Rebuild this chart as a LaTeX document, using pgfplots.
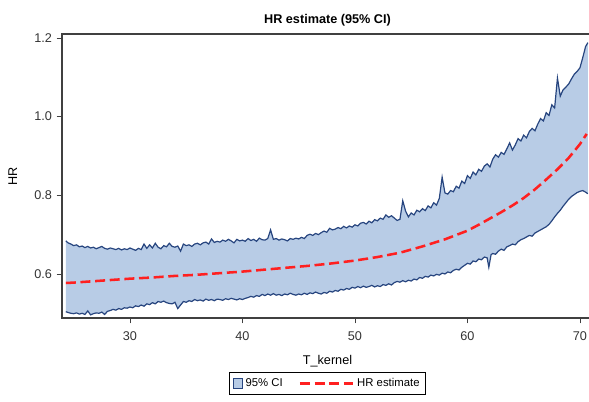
\documentclass[border=0pt]{standalone}
\usepackage{fontspec}
\setmainfont{Liberation Sans}
\usepackage{pgfplots}
\usepackage{pgfplotstable}
\pgfplotsset{compat=1.18}
\usepgfplotslibrary{fillbetween}
\definecolor{bandfill}{HTML}{B8CCE6}
\definecolor{bandline}{HTML}{27457F}
\definecolor{hrred}{HTML}{FF2020}
\definecolor{axgray}{HTML}{404040}

% upper 95% CI limit
\pgfplotstableread{
x up
24.3 0.684
24.5 0.679
24.75 0.676
25 0.672
25.25 0.674
25.5 0.669
25.75 0.671
26 0.667
26.25 0.670
26.5 0.666
26.75 0.668
27 0.664
27.25 0.667
27.5 0.670
27.75 0.665
28 0.663
28.25 0.666
28.5 0.664
28.75 0.662
29 0.665
29.25 0.661
29.5 0.664
29.75 0.662
30 0.666
30.25 0.663
30.5 0.660
30.75 0.665
31 0.662
31.25 0.676
31.5 0.665
31.75 0.674
32 0.666
32.25 0.678
32.5 0.668
32.75 0.664
33 0.672
33.25 0.669
33.5 0.678
33.75 0.670
34 0.668
34.25 0.671
34.5 0.658
34.75 0.676
35 0.672
35.25 0.674
35.5 0.670
35.75 0.676
36 0.678
36.25 0.674
36.5 0.679
36.75 0.681
37 0.676
37.25 0.689
37.5 0.680
37.75 0.683
38 0.681
38.25 0.686
38.5 0.683
38.75 0.688
39 0.684
39.25 0.679
39.5 0.688
39.75 0.684
40 0.686
40.25 0.683
40.5 0.690
40.75 0.685
41 0.688
41.25 0.683
41.5 0.691
41.75 0.687
42 0.686
42.25 0.690
42.5 0.712
42.75 0.688
43 0.690
43.25 0.686
43.5 0.689
43.75 0.687
44 0.684
44.25 0.690
44.5 0.688
44.75 0.691
45 0.689
45.25 0.693
45.5 0.690
45.75 0.698
46 0.701
46.25 0.698
46.5 0.703
46.75 0.700
47 0.705
47.25 0.709
47.5 0.706
47.75 0.716
48 0.712
48.25 0.714
48.5 0.718
48.75 0.715
49 0.721
49.25 0.717
49.5 0.722
49.75 0.719
50 0.725
50.25 0.722
50.5 0.729
50.75 0.731
51 0.727
51.25 0.734
51.5 0.730
51.75 0.738
52 0.735
52.25 0.742
52.5 0.739
52.75 0.750
53 0.744
53.25 0.748
53.5 0.742
53.75 0.736
54 0.739
54.25 0.786
54.5 0.760
54.75 0.745
55 0.755
55.25 0.750
55.5 0.762
55.75 0.758
56 0.766
56.25 0.761
56.5 0.773
56.75 0.768
57 0.781
57.25 0.775
57.5 0.792
57.75 0.846
58 0.806
58.25 0.803
58.5 0.812
58.75 0.809
59 0.823
59.25 0.818
59.5 0.836
59.75 0.830
60 0.850
60.25 0.843
60.5 0.859
60.75 0.852
61 0.866
61.25 0.861
61.5 0.874
61.75 0.880
62 0.872
62.25 0.892
62.5 0.903
62.75 0.897
63 0.909
63.25 0.904
63.5 0.918
63.75 0.933
64 0.915
64.25 0.928
64.5 0.944
64.75 0.938
65 0.953
65.25 0.946
65.5 0.962
65.75 0.970
66 0.964
66.25 0.981
66.5 0.995
66.75 0.989
67 1.010
67.25 1.003
67.5 1.030
67.75 1.022
68 1.098
68.25 1.052
68.5 1.068
68.75 1.075
69 1.083
69.25 1.096
69.5 1.108
69.75 1.115
70 1.124
70.25 1.150
70.5 1.178
70.7 1.188
}\uptab

% lower 95% CI limit
\pgfplotstableread{
x lo
24.3 0.504
24.5 0.502
24.75 0.500
25 0.499
25.25 0.501
25.5 0.498
25.75 0.500
26 0.497
26.25 0.506
26.5 0.496
26.75 0.499
27 0.501
27.25 0.500
27.5 0.503
27.75 0.497
28 0.505
28.25 0.507
28.5 0.510
28.75 0.508
29 0.512
29.25 0.510
29.5 0.514
29.75 0.513
30 0.516
30.25 0.514
30.5 0.519
30.75 0.517
31 0.521
31.25 0.518
31.5 0.524
31.75 0.522
32 0.527
32.25 0.524
32.5 0.530
32.75 0.528
33 0.531
33.25 0.527
33.5 0.525
33.75 0.524
34 0.528
34.25 0.512
34.5 0.521
34.75 0.530
35 0.528
35.25 0.532
35.5 0.530
35.75 0.535
36 0.532
36.25 0.534
36.5 0.531
36.75 0.536
37 0.533
37.25 0.535
37.5 0.532
37.75 0.536
38 0.535
38.25 0.533
38.5 0.537
38.75 0.535
39 0.538
39.25 0.536
39.5 0.534
39.75 0.537
40 0.535
40.25 0.538
40.5 0.540
40.75 0.543
41 0.541
41.25 0.545
41.5 0.543
41.75 0.548
42 0.545
42.25 0.549
42.5 0.546
42.75 0.550
43 0.546
43.25 0.548
43.5 0.545
43.75 0.549
44 0.547
44.25 0.551
44.5 0.548
44.75 0.546
45 0.549
45.25 0.547
45.5 0.551
45.75 0.548
46 0.552
46.25 0.550
46.5 0.554
46.75 0.551
47 0.549
47.25 0.553
47.5 0.551
47.75 0.556
48 0.554
48.25 0.558
48.5 0.556
48.75 0.561
49 0.559
49.25 0.563
49.5 0.561
49.75 0.566
50 0.564
50.25 0.568
50.5 0.565
50.75 0.569
51 0.566
51.25 0.568
51.5 0.571
51.75 0.567
52 0.570
52.25 0.568
52.5 0.573
52.75 0.571
53 0.575
53.25 0.572
53.5 0.578
53.75 0.581
54 0.579
54.25 0.583
54.5 0.580
54.75 0.584
55 0.582
55.25 0.587
55.5 0.585
55.75 0.591
56 0.589
56.25 0.594
56.5 0.592
56.75 0.597
57 0.595
57.25 0.599
57.5 0.597
57.75 0.602
58 0.600
58.25 0.605
58.5 0.603
58.75 0.609
59 0.612
59.25 0.610
59.5 0.617
59.75 0.622
60 0.627
60.25 0.625
60.5 0.633
60.75 0.631
61 0.638
61.25 0.636
61.5 0.643
61.75 0.641
61.9 0.617
62.1 0.649
62.25 0.652
62.5 0.650
62.75 0.658
63 0.663
63.25 0.660
63.5 0.669
63.75 0.672
64 0.676
64.25 0.674
64.5 0.682
64.75 0.687
65 0.690
65.25 0.694
65.5 0.698
65.75 0.696
66 0.704
66.25 0.708
66.5 0.712
66.75 0.716
67 0.720
67.25 0.726
67.5 0.735
67.75 0.745
68 0.754
68.25 0.762
68.5 0.772
68.75 0.781
69 0.790
69.25 0.797
69.5 0.802
69.75 0.807
70 0.810
70.25 0.812
70.5 0.808
70.7 0.804
}\lowtab

% HR estimate
\pgfplotstableread{
x hr
24.3 0.577
25 0.578
26 0.580
27 0.582
28 0.584
29 0.586
30 0.588
32 0.591
34 0.595
36 0.598
38 0.602
40 0.606
42 0.611
44 0.616
46 0.621
48 0.627
50 0.634
52 0.643
54 0.654
56 0.670
58 0.688
60 0.710
61 0.725
62 0.741
63 0.757
64 0.774
65 0.793
66 0.815
67 0.840
68 0.866
69 0.895
70 0.930
70.6 0.956
}\hrtab

\begin{document}
\begin{tikzpicture}
\begin{axis}[
  scale only axis, width=398.25pt, height=213pt,
  xmin=23.96, xmax=71.16, ymin=0.488, ymax=1.21,
  xtick={30,40,50,60,70}, ytick={0.6,0.8,1.0,1.2},
  xtick pos=bottom, ytick pos=left, tick align=outside,
  major tick length=4pt,
  every tick/.style={axgray, line width=0.6pt},
  axis line style={axgray, line width=0.8pt},
  /pgf/number format/assume math mode=true,
  yticklabel style={/pgf/number format/.cd, fixed, fixed zerofill, precision=1},
  xticklabel style={yshift=-3pt},
  ticklabel style={font=\fontsize{9.5}{11}\selectfont, text=black!80},
  xlabel={T\_kernel}, ylabel={HR},
  label style={font=\fontsize{9.5}{11}\selectfont},
  xlabel style={yshift=-4pt},
  ylabel style={yshift=6pt},
  title={HR estimate (95\% CI)},
  title style={font=\bfseries\fontsize{9.5}{11}\selectfont, yshift=-4pt},
  legend style={font=\fontsize{8.5}{10}\selectfont, at={(0.5,-0.19)}, anchor=north,
    legend columns=2, draw=black, line width=0.6pt, inner sep=2.5pt,
    /tikz/every even column/.append style={column sep=10pt}},
  legend cell align=left,
]
\addplot[name path=upper, bandline, line width=0.9pt, forget plot] table[x=x,y=up] {\uptab};
\addplot[name path=lower, bandline, line width=0.9pt, forget plot] table[x=x,y=lo] {\lowtab};
\addplot[fill=bandfill, draw=none,
  legend image code/.code={\draw[fill=bandfill, draw=bandline, line width=0.6pt] (0pt,-3.5pt) rectangle (7pt,3.5pt);}]
  fill between[of=upper and lower];
\addlegendentry{95\% CI}
\addplot[hrred, line width=1.9pt, dash pattern=on 7.5pt off 3.5pt,
  legend image code/.code={\draw[hrred, line width=1.9pt, dash pattern=on 7.5pt off 3.5pt] (0pt,0pt) -- (40pt,0pt);}]
  table[x=x,y=hr] {\hrtab};
\addlegendentry{HR estimate}
\coordinate (LL) at (rel axis cs:0,0);
\coordinate (UR) at (rel axis cs:1,1);
\end{axis}
\pgfresetboundingbox
\path[use as bounding box] ([shift={(-46.5pt,-62.25pt)}]LL) rectangle ([shift={(-3pt,25.5pt)}]UR);
\end{tikzpicture}
\end{document}
